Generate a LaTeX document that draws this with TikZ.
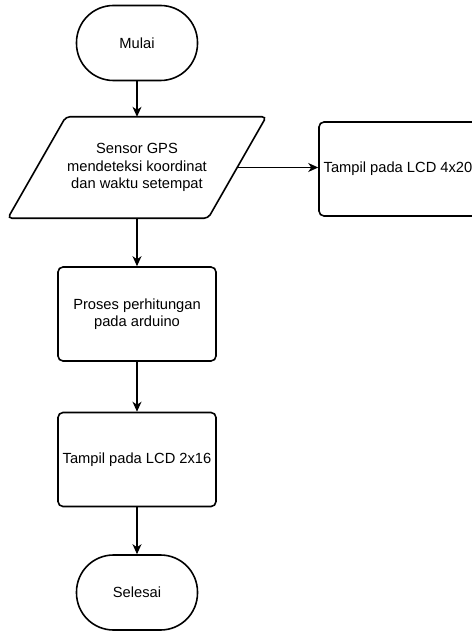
\documentclass[tikz,border=0pt]{standalone}
\usepackage{fontspec}
\setmainfont{Liberation Sans}
\usetikzlibrary{arrows.meta}

\begin{document}
\begin{tikzpicture}[x=1pt, y=-1pt,
  every node/.style={font=\fontsize{14.7}{17.5}\selectfont},
  terminal/.style={draw, line width=1.6pt, rounded corners=37pt,
    minimum width=121pt, minimum height=75pt, inner sep=0pt},
  process/.style={draw, line width=1.6pt, rounded corners=5pt,
    minimum width=158pt, minimum height=94pt, inner sep=0pt, align=center},
  flow/.style={line width=1.2pt, -{Stealth[length=10pt, width=9pt, inset=3pt]}}]

\useasboundingbox (0,0) rectangle (471,631);

\draw (137, 43) node[terminal] (mulai) {Mulai};

% input data: parallelogram drawn round a plain node
\draw (137, 167.5) node[minimum width=200pt, minimum height=101pt,
  inner sep=0pt, align=center] (sensor)
  {Sensor GPS\\mendeteksi koordinat\\dan waktu setempat};
\draw[line width=1.6pt, rounded corners=4pt]
  ([xshift=-29pt]sensor.south west) -- ([xshift=29pt]sensor.north west)
  -- ([xshift=29pt]sensor.north east) -- ([xshift=-29pt]sensor.south east)
  -- cycle;

\draw (398, 169) node[process] (lcdempat) {Tampil pada LCD 4x20};
\draw (137, 314) node[process] (proses) {Proses perhitungan\\pada arduino};
\draw (137, 459.5) node[process] (lcddua) {Tampil pada LCD 2x16};
\draw (137, 592.5) node[terminal] (selesai) {Selesai};

\draw[flow] (mulai) -- (sensor);
\draw[flow] (sensor.east) -- (sensor.east -| lcdempat.west);
\draw[flow] (sensor) -- (proses);
\draw[flow] (proses) -- (lcddua);
\draw[flow] (lcddua) -- (selesai);
\end{tikzpicture}
\end{document}
